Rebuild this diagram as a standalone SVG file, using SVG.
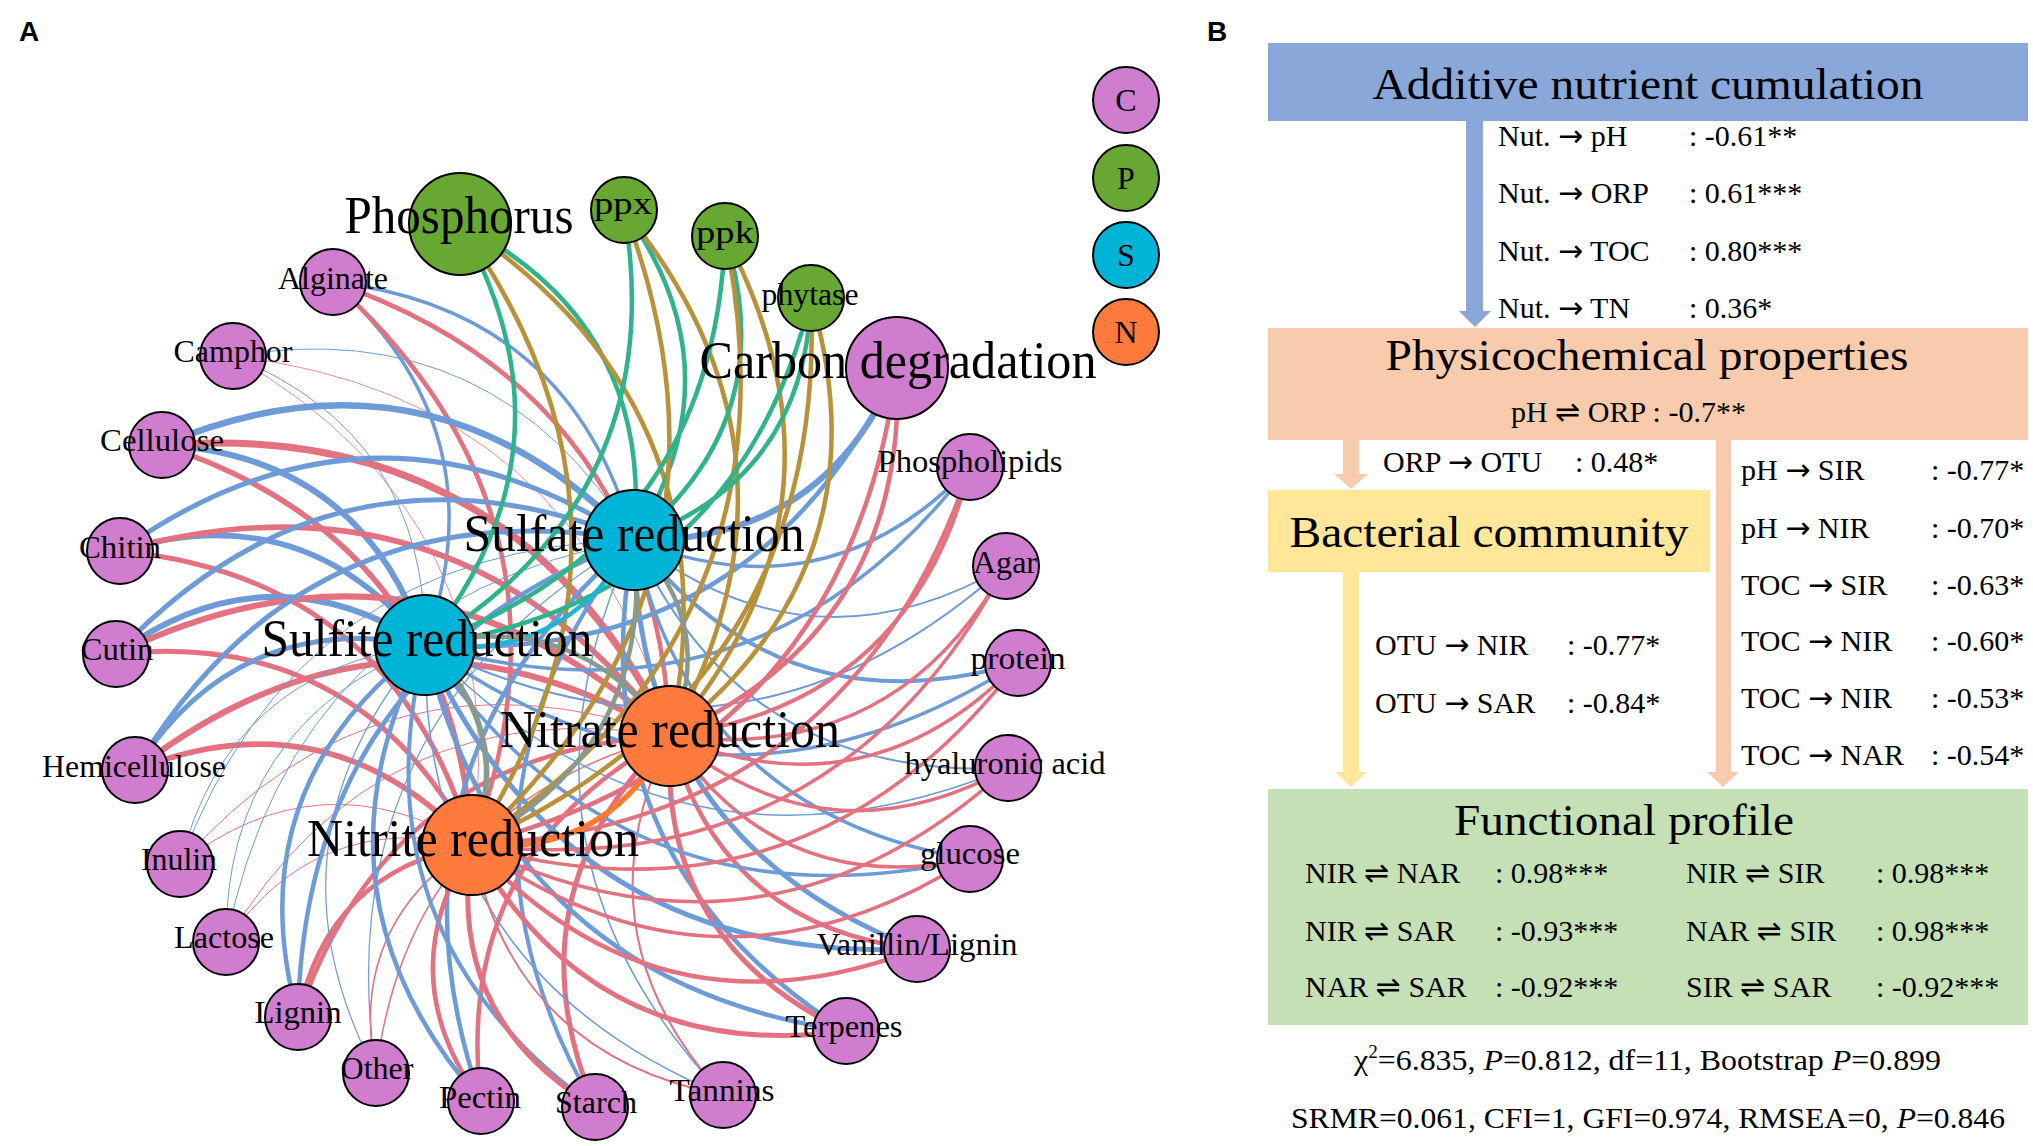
<svg xmlns="http://www.w3.org/2000/svg" width="2033" height="1146" viewBox="0 0 2033 1146">
<style>
.e{fill:none;stroke-linecap:round}
.b{stroke:#6D9BD8}
.r{stroke:#E3717F}
.g{stroke:#2EB38A;stroke-width:4.5}
.o{stroke:#B8913A;stroke-width:4.5}
.nc{fill:#D07CCF;stroke:#000;stroke-width:2}
.np{fill:#66A832;stroke:#000;stroke-width:2}
.ns{fill:#00B4D8;stroke:#000;stroke-width:2}
.nn{fill:#FF7A3C;stroke:#000;stroke-width:2}
.sl{font-family:"Liberation Serif","Times New Roman",serif;font-size:32px;text-anchor:middle;fill:#000}
.bl{font-family:"Liberation Serif","Times New Roman",serif;font-size:52px;text-anchor:middle;fill:#000}
.lg{font-family:"Liberation Serif","Times New Roman",serif;font-size:32px;text-anchor:middle;fill:#000}
.pl{font-family:"Liberation Sans",Arial,sans-serif;font-size:28px;font-weight:bold;fill:#000}
.ti{font-family:"Liberation Serif","Times New Roman",serif;font-size:44px;text-anchor:middle;fill:#000}
.t{font-family:"Liberation Serif","Times New Roman",serif;font-size:30px;fill:#000}
.ar{font-family:"DejaVu Sans",sans-serif}
</style>
<text class="pl" x="19" y="41">A</text>
<text class="pl" x="1207" y="41">B</text>
<g id="connectors">
<g id="c-edges">
<path class="e b" stroke-width="3.5" d="M333 282 Q571 309 634 540"/>
<path class="e b" stroke-width="3.5" d="M333 282 Q502 432 425 645"/>
<path class="e r" stroke-width="4.5" d="M333 282 Q656 394 670 736"/>
<path class="e r" stroke-width="4.5" d="M333 282 Q594 516 472 845"/>
<path class="e b" stroke-width="1" d="M233 356 Q496 312 634 540"/>
<path class="e b" stroke-width="1" d="M233 356 Q427 435 425 645"/>
<path class="e r" stroke-width="0.8" d="M233 356 Q581 397 670 736"/>
<path class="e r" stroke-width="0.8" d="M233 356 Q519 519 472 845"/>
<path class="e b" stroke-width="6.5" d="M162 445 Q430 332 634 540"/>
<path class="e b" stroke-width="6" d="M162 445 Q361.5 455.6 425 645"/>
<path class="e r" stroke-width="7" d="M162 445 Q515 418 670 736"/>
<path class="e r" stroke-width="5.5" d="M162 445 Q453 540 472 845"/>
<path class="e b" stroke-width="5" d="M120 551 Q373 371 634 540"/>
<path class="e b" stroke-width="5.5" d="M120 551 Q304.5 494 425 645"/>
<path class="e r" stroke-width="5.5" d="M120 551 Q458 456.5 670 736"/>
<path class="e r" stroke-width="5" d="M120 551 Q396 578 472 845"/>
<path class="e b" stroke-width="5" d="M116 654 Q336 421 634 540"/>
<path class="e b" stroke-width="6" d="M116 654 Q267.4 544.4 425 645"/>
<path class="e r" stroke-width="6" d="M116 654 Q421 506.6 670 736"/>
<path class="e r" stroke-width="5" d="M116 654 Q359 628.5 472 845"/>
<path class="e b" stroke-width="5" d="M135 770 Q306 485 634 540"/>
<path class="e b" stroke-width="5" d="M135 770 Q237.5 609 425 645"/>
<path class="e r" stroke-width="6" d="M135 770 Q391 571 670 736"/>
<path class="e r" stroke-width="5.5" d="M135 770 Q329 693 472 845"/>
<path class="e b" stroke-width="1" d="M180 864 Q297 548 634 540"/>
<path class="e b" stroke-width="1" d="M180 864 Q228 671 425 645"/>
<path class="e r" stroke-width="1" d="M180 864 Q381.5 633.4 670 736"/>
<path class="e r" stroke-width="1" d="M180 864 Q319.5 755 472 845"/>
<path class="e b" stroke-width="1" d="M226 942 Q293 602 634 540"/>
<path class="e b" stroke-width="1" d="M226 942 Q224.5 726 425 645"/>
<path class="e r" stroke-width="1" d="M226 942 Q378 688 670 736"/>
<path class="e r" stroke-width="1" d="M226 942 Q316 810 472 845"/>
<path class="e b" stroke-width="4.5" d="M298 1017 Q304 664 634 540"/>
<path class="e b" stroke-width="4.5" d="M298 1017 Q235 788 425 645"/>
<path class="e r" stroke-width="4.5" d="M298 1017 Q388.5 750 670 736"/>
<path class="e r" stroke-width="4.5" d="M298 1017 Q326.5 872 472 845"/>
<path class="e b" stroke-width="1.2" d="M376 1073 Q324 719 634 540"/>
<path class="e b" stroke-width="1.2" d="M376 1073 Q255 842 425 645"/>
<path class="e r" stroke-width="1.5" d="M376 1073 Q408.4 804.5 670 736"/>
<path class="e r" stroke-width="1.5" d="M376 1073 Q346.5 926.4 472 845"/>
<path class="e b" stroke-width="4.5" d="M481 1101 Q367 768.5 634 540"/>
<path class="e b" stroke-width="4.5" d="M481 1101 Q298 892 425 645"/>
<path class="e r" stroke-width="4.5" d="M481 1101 Q451.4 854 670 736"/>
<path class="e r" stroke-width="4.5" d="M481 1101 Q389.5 976 472 845"/>
<path class="e b" stroke-width="4" d="M595 1107 Q421.7 810 634 540"/>
<path class="e b" stroke-width="4" d="M595 1107 Q353 934 425 645"/>
<path class="e r" stroke-width="5" d="M595 1107 Q506.4 896 670 736"/>
<path class="e r" stroke-width="5" d="M595 1107 Q444.4 1017.8 472 845"/>
<path class="e b" stroke-width="1.5" d="M723 1095 Q489.8 847.8 634 540"/>
<path class="e b" stroke-width="1.5" d="M723 1095 Q421 971 425 645"/>
<path class="e r" stroke-width="2" d="M723 1095 Q574.4 933.5 670 736"/>
<path class="e r" stroke-width="2" d="M723 1095 Q512.5 1055 472 845"/>
<path class="e b" stroke-width="4.5" d="M846 1031 Q573 857.6 634 540"/>
<path class="e b" stroke-width="4.5" d="M846 1031 Q504.3 981 425 645"/>
<path class="e r" stroke-width="5" d="M846 1031 Q657.7 943.3 670 736"/>
<path class="e r" stroke-width="5" d="M846 1031 Q595.8 1065 472 845"/>
<path class="e b" stroke-width="5" d="M917 949 Q636.5 840.7 634 540"/>
<path class="e b" stroke-width="5" d="M917 949 Q567.6 964.3 425 645"/>
<path class="e r" stroke-width="4.5" d="M917 949 Q721 926.5 670 736"/>
<path class="e r" stroke-width="4.5" d="M917 949 Q659 1048.3 472 845"/>
<path class="e b" stroke-width="3.5" d="M970 859 Q693.5 813.7 634 540"/>
<path class="e b" stroke-width="3.5" d="M970 859 Q624.7 937.3 425 645"/>
<path class="e r" stroke-width="3.5" d="M970 859 Q778 899.5 670 736"/>
<path class="e r" stroke-width="3.5" d="M970 859 Q716 1021.3 472 845"/>
<path class="e b" stroke-width="2" d="M1008 768 Q743.5 781 634 540"/>
<path class="e b" stroke-width="1.5" d="M1008 768 Q674.7 904.7 425 645"/>
<path class="e r" stroke-width="3.5" d="M1008 768 Q828 867 670 736"/>
<path class="e r" stroke-width="3.5" d="M1008 768 Q766 988.7 472 845"/>
<path class="e b" stroke-width="4" d="M1018 663 Q784 732 634 540"/>
<path class="e b" stroke-width="3.5" d="M1018 663 Q715.4 855.6 425 645"/>
<path class="e r" stroke-width="3.5" d="M1018 663 Q868.8 817.8 670 736"/>
<path class="e r" stroke-width="3.5" d="M1018 663 Q807 939.6 472 845"/>
<path class="e b" stroke-width="2" d="M1006 566 Q811 679.5 634 540"/>
<path class="e b" stroke-width="2" d="M1006 566 Q742.4 803 425 645"/>
<path class="e r" stroke-width="3.5" d="M1006 566 Q895.8 765.2 670 736"/>
<path class="e r" stroke-width="3.5" d="M1006 566 Q834 887 472 845"/>
<path class="e b" stroke-width="3.5" d="M970 467 Q826.8 617.7 634 540"/>
<path class="e b" stroke-width="3.5" d="M970 467 Q758 741.3 425 645"/>
<path class="e r" stroke-width="4" d="M970 467 Q911.5 703.5 670 736"/>
<path class="e r" stroke-width="4" d="M970 467 Q849.5 825.3 472 845"/>
<path class="e b" stroke-width="6" d="M897 368 Q824 543.4 634 540"/>
<path class="e b" stroke-width="4.5" d="M897 368 Q755 667 425 645"/>
<path class="e r" stroke-width="4.5" d="M897 368 Q908.6 629.2 670 736"/>
<path class="e r" stroke-width="4.5" d="M897 368 Q846.7 751 472 845"/>
</g>
<g id="p-edges">
<path class="e g" d="M460 224 Q654.4 322.8 634 540"/>
<path class="e g" d="M460 224 Q585.6 446.4 425 645"/>
<path class="e o" d="M460 224 Q739 408.6 670 736"/>
<path class="e o" d="M460 224 Q677 530.4 472 845"/>
<path class="e g" d="M624 210 Q741 371.6 634 540"/>
<path class="e g" d="M624 210 Q672.4 495.2 425 645"/>
<path class="e o" d="M624 210 Q825.8 457.4 670 736"/>
<path class="e o" d="M624 210 Q764 579.2 472 845"/>
<path class="e g" d="M725 236 Q783 419 634 540"/>
<path class="e g" d="M725 236 Q714 542.5 425 645"/>
<path class="e o" d="M725 236 Q867.5 504.7 670 736"/>
<path class="e o" d="M725 236 Q805.5 626.5 472 845"/>
<path class="e g" d="M811 298 Q804.8 479.2 634 540"/>
<path class="e g" d="M811 298 Q736 602.7 425 645"/>
<path class="e o" d="M811 298 Q889.4 564.9 670 736"/>
<path class="e o" d="M811 298 Q827.5 686.8 472 845"/>
</g>
<g id="hub-edges">
<path class="e" stroke="#1CB5D5" stroke-width="4.5" d="M634 540 Q565 663.6 425 645"/>
<path class="e" stroke="#889A8E" stroke-width="5.5" d="M425 645 Q516.5 729 472 845"/>
<path class="e" stroke="#889A8E" stroke-width="4.5" d="M425 645 Q578.4 607.2 670 736"/>
<path class="e" stroke="#889A8E" stroke-width="4.5" d="M634 540 Q718.6 625.8 670 736"/>
<path class="e" stroke="#889A8E" stroke-width="4.5" d="M634 540 Q656.7 747.6 472 845"/>
<path class="e" stroke="#FF7A2E" stroke-width="5.5" d="M670 736 Q608 857.8 472 845"/>
</g>
</g>
<g id="nodes">
<g id="n-alginate"><circle class="nc" cx="333" cy="282" r="33"/><text class="sl" x="333" y="289" textLength="110" lengthAdjust="spacingAndGlyphs">Alginate</text></g>
<g id="n-camphor"><circle class="nc" cx="233" cy="356" r="33"/><text class="sl" x="233" y="362" textLength="119" lengthAdjust="spacingAndGlyphs">Camphor</text></g>
<g id="n-cellulose"><circle class="nc" cx="162" cy="445" r="33"/><text class="sl" x="162" y="451" textLength="124" lengthAdjust="spacingAndGlyphs">Cellulose</text></g>
<g id="n-chitin"><circle class="nc" cx="120" cy="551" r="33"/><text class="sl" x="120" y="558" textLength="82" lengthAdjust="spacingAndGlyphs">Chitin</text></g>
<g id="n-cutin"><circle class="nc" cx="116" cy="654" r="33"/><text class="sl" x="117" y="660" textLength="73" lengthAdjust="spacingAndGlyphs">Cutin</text></g>
<g id="n-hemicellulose"><circle class="nc" cx="135" cy="770" r="33"/><text class="sl" x="134" y="777" textLength="184" lengthAdjust="spacingAndGlyphs">Hemicellulose</text></g>
<g id="n-inulin"><circle class="nc" cx="180" cy="864" r="33"/><text class="sl" x="179" y="870" textLength="76" lengthAdjust="spacingAndGlyphs">Inulin</text></g>
<g id="n-lactose"><circle class="nc" cx="226" cy="942" r="33"/><text class="sl" x="224" y="948" textLength="100" lengthAdjust="spacingAndGlyphs">Lactose</text></g>
<g id="n-lignin"><circle class="nc" cx="298" cy="1017" r="33"/><text class="sl" x="298" y="1023" textLength="87" lengthAdjust="spacingAndGlyphs">Lignin</text></g>
<g id="n-other"><circle class="nc" cx="376" cy="1073" r="33"/><text class="sl" x="377" y="1079" textLength="73" lengthAdjust="spacingAndGlyphs">Other</text></g>
<g id="n-pectin"><circle class="nc" cx="481" cy="1101" r="33"/><text class="sl" x="480" y="1108" textLength="82" lengthAdjust="spacingAndGlyphs">Pectin</text></g>
<g id="n-starch"><circle class="nc" cx="595" cy="1107" r="33"/><text class="sl" x="596" y="1113" textLength="82" lengthAdjust="spacingAndGlyphs">Starch</text></g>
<g id="n-tannins"><circle class="nc" cx="723" cy="1095" r="33"/><text class="sl" x="722" y="1101" textLength="105" lengthAdjust="spacingAndGlyphs">Tannins</text></g>
<g id="n-terpenes"><circle class="nc" cx="846" cy="1031" r="33"/><text class="sl" x="844" y="1037" textLength="117" lengthAdjust="spacingAndGlyphs">Terpenes</text></g>
<g id="n-vanillin"><circle class="nc" cx="917" cy="949" r="33"/><text class="sl" x="917" y="955" textLength="201" lengthAdjust="spacingAndGlyphs">Vanillin/Lignin</text></g>
<g id="n-glucose"><circle class="nc" cx="970" cy="859" r="33"/><text class="sl" x="970" y="864" textLength="100" lengthAdjust="spacingAndGlyphs">glucose</text></g>
<g id="n-hyaluronic"><circle class="nc" cx="1008" cy="768" r="33"/><text class="sl" x="1005" y="774" textLength="201" lengthAdjust="spacingAndGlyphs">hyaluronic acid</text></g>
<g id="n-protein"><circle class="nc" cx="1018" cy="663" r="33"/><text class="sl" x="1018" y="669" textLength="95" lengthAdjust="spacingAndGlyphs">protein</text></g>
<g id="n-agar"><circle class="nc" cx="1006" cy="566" r="33"/><text class="sl" x="1005" y="573" textLength="64" lengthAdjust="spacingAndGlyphs">Agar</text></g>
<g id="n-phospholipids"><circle class="nc" cx="970" cy="467" r="33"/><text class="sl" x="970" y="472" textLength="185" lengthAdjust="spacingAndGlyphs">Phospholipids</text></g>
<g id="n-phytase"><circle class="np" cx="811" cy="298" r="33"/><text class="sl" x="810" y="305" textLength="97" lengthAdjust="spacingAndGlyphs">phytase</text></g>
<g id="n-ppk"><circle class="np" cx="725" cy="236" r="33"/><text class="sl" x="725" y="243" font-size="36" textLength="58" lengthAdjust="spacingAndGlyphs">ppk</text></g>
<g id="n-ppx"><circle class="np" cx="624" cy="210" r="33"/><text class="sl" x="623" y="214" font-size="36" textLength="58" lengthAdjust="spacingAndGlyphs">ppx</text></g>
<g id="n-phosphorus"><circle class="np" cx="460" cy="224" r="51"/><text class="bl" x="459" y="233" textLength="229" lengthAdjust="spacingAndGlyphs">Phosphorus</text></g>
<g id="n-carbon"><circle class="nc" cx="897" cy="368" r="51"/><text class="bl" x="898" y="378" textLength="397" lengthAdjust="spacingAndGlyphs">Carbon degradation</text></g>
<g id="n-sulfate"><circle class="ns" cx="634" cy="540" r="50"/><text class="bl" x="634" y="551" textLength="341" lengthAdjust="spacingAndGlyphs">Sulfate reduction</text></g>
<g id="n-sulfite"><circle class="ns" cx="425" cy="645" r="50"/><text class="bl" x="427" y="656" textLength="331" lengthAdjust="spacingAndGlyphs">Sulfite reduction</text></g>
<g id="n-nitrate"><circle class="nn" cx="670" cy="736" r="50"/><text class="bl" x="670" y="747" textLength="340" lengthAdjust="spacingAndGlyphs">Nitrate reduction</text></g>
<g id="n-nitrite"><circle class="nn" cx="472" cy="845" r="50"/><text class="bl" x="473" y="856" textLength="332" lengthAdjust="spacingAndGlyphs">Nitrite reduction</text></g>
</g>
<g id="legend">
<g id="lg-c"><circle class="nc" cx="1126" cy="100" r="33"/><text class="lg" x="1126" y="111">C</text></g>
<g id="lg-p"><circle class="np" cx="1126" cy="178" r="33"/><text class="lg" x="1126" y="189">P</text></g>
<g id="lg-s"><circle class="ns" cx="1126" cy="255" r="33"/><text class="lg" x="1126" y="266">S</text></g>
<g id="lg-n"><circle class="nn" cx="1126" cy="332" r="33"/><text class="lg" x="1126" y="343">N</text></g>
</g>
<g id="panelB-arrows">
<path fill="#8AA7DA" d="M1466 121 H1483 V311 H1491 L1475 327 L1459 311 H1466 Z"/>
<path fill="#F8CBAD" d="M1343 440 H1359 V474 H1368 L1351 489 L1334 474 H1343 Z"/>
<path fill="#F8CBAD" d="M1716 440 H1731 V772 H1739 L1723 787 L1707 772 H1716 Z"/>
<path fill="#FFE699" d="M1343 572 H1359 V772 H1367 L1351 787 L1335 772 H1343 Z"/>
</g>
<g id="b-additive"><rect x="1268" y="43" width="760" height="78" fill="#8AA7DA"/><text class="ti" x="1648" y="99" textLength="551" lengthAdjust="spacingAndGlyphs">Additive nutrient cumulation</text></g>
<g id="b-physico"><rect x="1268" y="328" width="760" height="112" fill="#F8CBAD"/><text class="ti" x="1647" y="370" textLength="523" lengthAdjust="spacingAndGlyphs">Physicochemical properties</text><text class="t" x="1511" y="422">pH <tspan class="ar">⇌</tspan> ORP : -0.7**</text></g>
<g id="b-bacterial"><rect x="1268" y="490" width="442" height="82" fill="#FFE699"/><text class="ti" x="1489" y="547" textLength="399" lengthAdjust="spacingAndGlyphs">Bacterial community</text></g>
<g id="b-functional"><rect x="1268" y="789" width="760" height="236" fill="#C5E0B4"/><text class="ti" x="1624" y="835" textLength="340" lengthAdjust="spacingAndGlyphs">Functional profile</text>
<text class="t" x="1305" y="883">NIR <tspan class="ar">⇌</tspan> NAR</text><text class="t" x="1495" y="883">: 0.98***</text>
<text class="t" x="1305" y="941">NIR <tspan class="ar">⇌</tspan> SAR</text><text class="t" x="1495" y="941">: -0.93***</text>
<text class="t" x="1305" y="997">NAR <tspan class="ar">⇌</tspan> SAR</text><text class="t" x="1495" y="997">: -0.92***</text>
<text class="t" x="1686" y="883">NIR <tspan class="ar">⇌</tspan> SIR</text><text class="t" x="1876" y="883">: 0.98***</text>
<text class="t" x="1686" y="941">NAR <tspan class="ar">⇌</tspan> SIR</text><text class="t" x="1876" y="941">: 0.98***</text>
<text class="t" x="1686" y="997">SIR <tspan class="ar">⇌</tspan> SAR</text><text class="t" x="1876" y="997">: -0.92***</text>
</g>
<g id="b-labels">
<text class="t" x="1498" y="146">Nut. <tspan class="ar">→</tspan> pH</text><text class="t" x="1689" y="146">: -0.61**</text>
<text class="t" x="1498" y="203">Nut. <tspan class="ar">→</tspan> ORP</text><text class="t" x="1689" y="203">: 0.61***</text>
<text class="t" x="1498" y="261">Nut. <tspan class="ar">→</tspan> TOC</text><text class="t" x="1689" y="261">: 0.80***</text>
<text class="t" x="1498" y="318">Nut. <tspan class="ar">→</tspan> TN</text><text class="t" x="1689" y="318">: 0.36*</text>
<text class="t" x="1383" y="472">ORP <tspan class="ar">→</tspan> OTU</text><text class="t" x="1575" y="472">: 0.48*</text>
<text class="t" x="1375" y="655">OTU <tspan class="ar">→</tspan> NIR</text><text class="t" x="1567" y="655">: -0.77*</text>
<text class="t" x="1375" y="713">OTU <tspan class="ar">→</tspan> SAR</text><text class="t" x="1567" y="713">: -0.84*</text>
<text class="t" x="1741" y="480">pH <tspan class="ar">→</tspan> SIR</text><text class="t" x="1931" y="480">: -0.77*</text>
<text class="t" x="1741" y="538">pH <tspan class="ar">→</tspan> NIR</text><text class="t" x="1931" y="538">: -0.70*</text>
<text class="t" x="1741" y="595">TOC <tspan class="ar">→</tspan> SIR</text><text class="t" x="1931" y="595">: -0.63*</text>
<text class="t" x="1741" y="651">TOC <tspan class="ar">→</tspan> NIR</text><text class="t" x="1931" y="651">: -0.60*</text>
<text class="t" x="1741" y="708">TOC <tspan class="ar">→</tspan> NIR</text><text class="t" x="1931" y="708">: -0.53*</text>
<text class="t" x="1741" y="765">TOC <tspan class="ar">→</tspan> NAR</text><text class="t" x="1931" y="765">: -0.54*</text>
<text class="t" x="1354" y="1070" textLength="587" lengthAdjust="spacingAndGlyphs">χ<tspan font-size="18" dy="-12">2</tspan><tspan dy="12">=6.835, </tspan><tspan font-style="italic">P</tspan>=0.812, df=11, Bootstrap <tspan font-style="italic">P</tspan>=0.899</text>
<text class="t" x="1291" y="1128" textLength="714" lengthAdjust="spacingAndGlyphs">SRMR=0.061, CFI=1, GFI=0.974, RMSEA=0, <tspan font-style="italic">P</tspan>=0.846</text>
</g>
</svg>
